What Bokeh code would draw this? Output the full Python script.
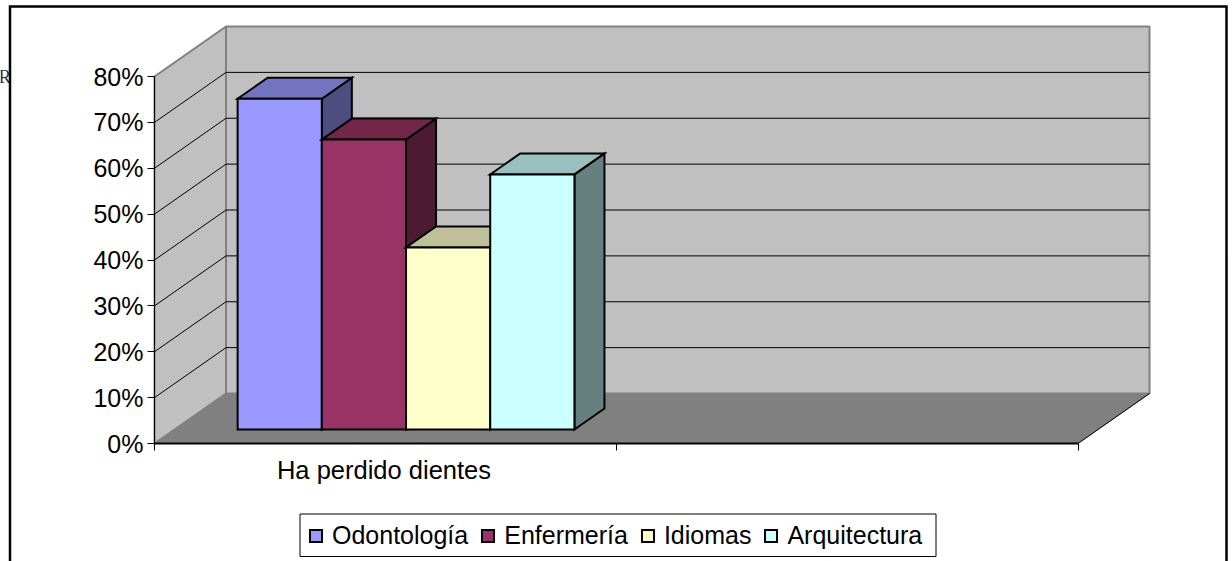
from bokeh.plotting import figure
from bokeh.embed import file_html
from bokeh.resources import INLINE
from bokeh.models import (Range1d, FixedTicker, PrintfTickFormatter, LinearAxis, Legend,
                          LegendItem, Label)

# ---- data ----
categories = ["Ha perdido dientes"]
series_names = ["Odontología", "Enfermería", "Idiomas", "Arquitectura"]
series_values = [72.1, 63.2, 39.7, 55.6]
front_colors = ["#9999FF", "#993366", "#FFFFCC", "#CCFFFF"]
top_colors = ["#7373BF", "#732649", "#BFBF99", "#99BFBF"]
side_colors = ["#4D4D80", "#4D1A33", "#808066", "#668080"]
y_ticks = [0, 10, 20, 30, 40, 50, 60, 70, 80]

# ---- page geometry (pixels) ----
W, H = 1232, 561
X0, X2 = 154.0, 1077.5      # front floor edge
Y0, Y80 = 443.0, 76.0       # front 0% and 80%
DX, DY = 71.5, 50.0         # depth of the box
px_per_unit = (X2 - X0) / 2
px_per_pct = (Y0 - Y80) / 80

def ux(px):
    return (px - X0) / px_per_unit

def uy(py):
    return (Y0 - py) / px_per_pct

def proj(x, pct, depth):
    return x + depth * DX / px_per_unit, pct + depth * DY / px_per_pct

def face(corners):
    pts = [proj(*c) for c in corners]
    return [q[0] for q in pts], [q[1] for q in pts]

p = figure(width=W, height=H, output_backend="svg", toolbar_location=None,
           x_range=Range1d(ux(0), ux(W)), y_range=Range1d(uy(H), uy(0)),
           min_border=0, min_border_left=0, min_border_right=0, min_border_top=0,
           min_border_bottom=0, background_fill_color="white", border_fill_color="white",
           outline_line_color=None, margin=0,
           styles={"position": "absolute", "left": "0px", "top": "0px"})
p.grid.visible = False

# ---- box ----
WALL, FLOOR, EDGE = "#C0C0C0", "#808080", "#808080"
xs, ys = face([(0, 0, 1), (2, 0, 1), (2, 80, 1), (0, 80, 1)])
p.patch(xs, ys, fill_color=WALL, line_color=EDGE, line_width=2)
xs, ys = face([(0, 0, 0), (0, 0, 1), (0, 80, 1), (0, 80, 0)])
p.patch(xs, ys, fill_color=WALL, line_color=EDGE, line_width=2)
xs, ys = face([(0, 0, 0), (2, 0, 0), (2, 0, 1), (0, 0, 1)])
p.patch(xs, ys, fill_color=FLOOR, line_color=FLOOR, line_width=1)

for t in y_ticks[1:-1]:
    xs, ys = face([(0, t, 0), (0, t, 1), (2, t, 1)])
    p.line(xs, ys, line_color="black", line_width=1)
xs, ys = face([(2, 0, 0), (2, 0, 1)])
p.line(xs, ys, line_color="black", line_width=1)

# axis lines drawn only over the box
xs, ys = face([(0, 80, 0), (0, 0, 0)])
p.line(xs, ys, line_color="black", line_width=1)
xs, ys = face([(0, 0, 0), (2, 0, 0)])
p.line(xs, ys, line_color="black", line_width=2)

# ---- bars ----
BAR_X0 = ux(217.1)
BAR_W = 84.2 / px_per_unit
D0, D1 = 0.28, 0.70
legend_items = []
for i, (name, val) in enumerate(zip(series_names, series_values)):
    a, b = BAR_X0 + i * BAR_W, BAR_X0 + (i + 1) * BAR_W
    kw = dict(line_color="black", line_width=2, line_join="miter")
    xs, ys = face([(b, 0, D0), (b, 0, D1), (b, val, D1), (b, val, D0)])
    p.patch(xs, ys, fill_color=side_colors[i], **kw)
    xs, ys = face([(a, val, D0), (b, val, D0), (b, val, D1), (a, val, D1)])
    p.patch(xs, ys, fill_color=top_colors[i], **kw)
    xs, ys = face([(a, 0, D0), (b, 0, D0), (b, val, D0), (a, val, D0)])
    r = p.patch(xs, ys, fill_color=front_colors[i], **kw)
    legend_items.append(LegendItem(label=name, renderers=[r]))

# ---- axes ----
FONT = "Liberation Sans"
p.yaxis.fixed_location = 0
p.yaxis.ticker = FixedTicker(ticks=y_ticks)
p.yaxis.formatter = PrintfTickFormatter(format="%d%%")
p.yaxis.major_tick_in = 0
p.yaxis.major_tick_out = 7
p.yaxis.minor_tick_line_color = None
p.yaxis.major_label_standoff = 4
p.yaxis.major_label_text_font = FONT
p.yaxis.major_label_text_font_size = "25px"
p.yaxis.major_label_text_color = "black"
p.yaxis.axis_line_color = None
p.yaxis.major_tick_line_color = "black"

p.xaxis.fixed_location = 0
p.xaxis.ticker = FixedTicker(ticks=[0, 1, 2])
p.xaxis.major_label_text_color = None
p.xaxis.major_tick_in = 0
p.xaxis.major_tick_out = 7
p.xaxis.minor_tick_line_color = None
p.xaxis.axis_line_color = None
p.xaxis.major_tick_line_color = "black"

cat_axis = LinearAxis(fixed_location=0, ticker=FixedTicker(ticks=[0.497]),
                      major_label_overrides={0.497: categories[0]},
                      major_tick_in=0, major_tick_out=0, minor_tick_line_color=None,
                      axis_line_color=None, major_label_standoff=12,
                      major_label_text_font=FONT, major_label_text_font_size="25.5px",
                      major_label_text_color="black")
p.add_layout(cat_axis, "below")

# ---- frame around the chart ----
FX0, FX1, FY = 9.5, 1226.0, 6.0
p.line([ux(FX0), ux(FX0), ux(FX1), ux(FX1)], [uy(H), uy(FY), uy(FY), uy(H)],
       line_color="black", line_width=2.5, line_join="miter")

# stray character left of the frame
p.add_layout(Label(x=-2, y=H - 76, x_units="screen", y_units="screen", text="R",
                   text_font="Liberation Serif", text_font_size="19px", text_color="#333333",
                   text_baseline="alphabetic", level="underlay"))

# ---- legend ----
p.quad(left=[ux(299.5)], right=[ux(935.5)], top=[uy(513.5)], bottom=[uy(556)],
       fill_color="white", line_color="black", line_width=1)
legend = Legend(items=legend_items, orientation="horizontal", location=(308, 11),
                glyph_width=15, glyph_height=15, spacing=12, padding=6, margin=0,
                label_standoff=9, label_text_font=FONT, label_text_font_size="25px",
                label_text_color="black", border_line_color=None,
                background_fill_alpha=0)
p.add_layout(legend)

open("out.html", "w").write(file_html(p, INLINE))
